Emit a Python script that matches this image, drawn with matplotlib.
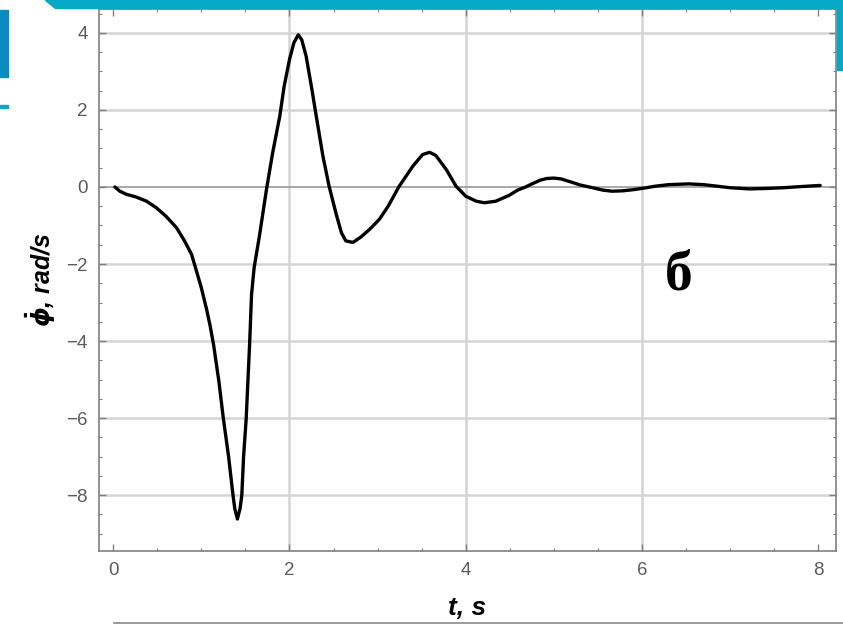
import matplotlib
matplotlib.use('Agg')
import matplotlib.pyplot as plt
from matplotlib.patches import Polygon, Rectangle
from matplotlib.ticker import MultipleLocator

plt.rcParams['font.family'] = ['Liberation Sans', 'DejaVu Sans']
plt.rcParams['mathtext.fontset'] = 'custom'
plt.rcParams['mathtext.it'] = 'DejaVu Sans:bold:italic'
plt.rcParams['mathtext.rm'] = 'DejaVu Sans:bold'

# angular velocity
t = [0.02, 0.076, 0.15, 0.26, 0.38, 0.49, 0.60, 0.72, 0.81, 0.89, 0.94, 1.00,
     1.06, 1.10, 1.14, 1.20, 1.25, 1.31, 1.36, 1.38, 1.41, 1.44, 1.46, 1.48,
     1.51, 1.53, 1.55, 1.57, 1.60, 1.66, 1.74, 1.81, 1.89, 1.94, 2.00, 2.05,
     2.10, 2.14, 2.19, 2.25, 2.30, 2.38, 2.45, 2.53, 2.59, 2.64, 2.72, 2.81,
     2.91, 3.02, 3.12, 3.24, 3.40, 3.51, 3.59, 3.66, 3.78, 3.89, 4.00, 4.12,
     4.21, 4.34, 4.49, 4.59, 4.68, 4.76, 4.85, 4.92, 5.00, 5.08, 5.15, 5.22,
     5.30, 5.44, 5.55, 5.66, 5.78, 5.90, 6.02, 6.15, 6.30, 6.53, 6.70, 6.85,
     7.00, 7.21, 7.40, 7.60, 7.80, 8.02]
phi_dot = [0.00, -0.11, -0.19, -0.26, -0.37, -0.54, -0.76, -1.06, -1.40, -1.75,
           -2.14, -2.61, -3.17, -3.60, -4.10, -5.05, -6.00, -7.00, -8.00, -8.35,
           -8.62, -8.35, -8.00, -7.00, -6.00, -5.00, -4.00, -2.80, -2.09, -1.27,
           -0.06, 0.89, 1.83, 2.61, 3.30, 3.74, 3.95, 3.82, 3.39, 2.60, 1.90,
           0.80, 0.02, -0.70, -1.19, -1.40, -1.44, -1.30, -1.10, -0.84, -0.50,
           0.00, 0.54, 0.84, 0.90, 0.82, 0.45, 0.02, -0.24, -0.37, -0.41, -0.37,
           -0.22, -0.08, 0.00, 0.09, 0.18, 0.22, 0.23, 0.21, 0.16, 0.11, 0.05,
           -0.02, -0.08, -0.11, -0.10, -0.07, -0.03, 0.02, 0.06, 0.08, 0.06,
           0.02, -0.02, -0.05, -0.04, -0.02, 0.01, 0.04]

fig = plt.figure(figsize=(8.43, 6.25), dpi=100)
ax = fig.add_axes([99 / 843, 1 - 551 / 625, 737 / 843, 542 / 625])

# slide decoration
fig.patches.append(Polygon([[45 / 843, 1], [1, 1], [1, 1 - 8 / 625], [55 / 843, 1 - 8 / 625]],
                           closed=True, transform=fig.transFigure, color='#05a9c6', zorder=0))
fig.patches.append(Rectangle((0, 1 - 77 / 625), 8 / 843, 67 / 625, transform=fig.transFigure,
                             color='#0a8cc0', zorder=0))
fig.patches.append(Rectangle((0, 1 - 108 / 625), 8 / 843, 3 / 625, transform=fig.transFigure,
                             color='#05a9c6', zorder=0))
fig.patches.append(Rectangle((837 / 843, 1 - 70 / 625), 6 / 843, 70 / 625, transform=fig.transFigure,
                             color='#05a9c6', zorder=0))
fig.lines.append(plt.Line2D([114 / 843, 1], [1 - 623 / 625, 1 - 623 / 625],
                            transform=fig.transFigure, color='#8a8a8a', lw=1.2))

for g in [2, 4, 6]:
    ax.axvline(g, color='#d4d4d4', lw=1.8, zorder=1)
for g in [4, 2, -2, -4, -6, -8]:
    ax.axhline(g, color='#d4d4d4', lw=1.8, zorder=1)
ax.axhline(0, color='#9a9a9a', lw=1.2, zorder=1)

ax.plot(t, phi_dot, color='black', lw=2.4, zorder=3,
        solid_capstyle='round', solid_joinstyle='round')

ax.set_xlim(-0.16, 8.2)
ax.set_ylim(-9.45, 4.62)
ax.xaxis.set_major_locator(MultipleLocator(2))
ax.xaxis.set_minor_locator(MultipleLocator(0.5))
ax.yaxis.set_major_locator(MultipleLocator(2))
ax.yaxis.set_minor_locator(MultipleLocator(0.5))
ax.tick_params(which='both', direction='in', top=True, right=True, color='#808080',
               labelcolor='#5a5a5a', labelsize=13.5)
ax.tick_params(which='major', length=5, width=1.0, pad=8)
ax.tick_params(which='minor', length=2.5, width=0.8)
ax.set_yticks([-8, -6, -4, -2, 0, 2, 4])
ax.set_yticklabels(['\u22128', '\u22126', '\u22124', '\u22122', '0', '2', '4'])
for s in ax.spines.values():
    s.set_color('#808080')
    s.set_linewidth(1.2)

fig.text(467 / 843, 1 - 608 / 625, 't, s', ha='center', va='center', fontsize=19,
         fontweight='bold', style='italic')
fig.text(40 / 843, 1 - 280 / 625, r'$\dot{\phi}$, rad/s', ha='center', va='center',
         fontsize=18, fontweight='bold', style='italic', rotation=90)
ax.text(0.786, 0.509, '\u0431', transform=ax.transAxes, ha='center', va='center',
        fontsize=40, fontweight='bold', family='Liberation Serif')

fig.savefig('out.png', dpi=100, facecolor='white')
